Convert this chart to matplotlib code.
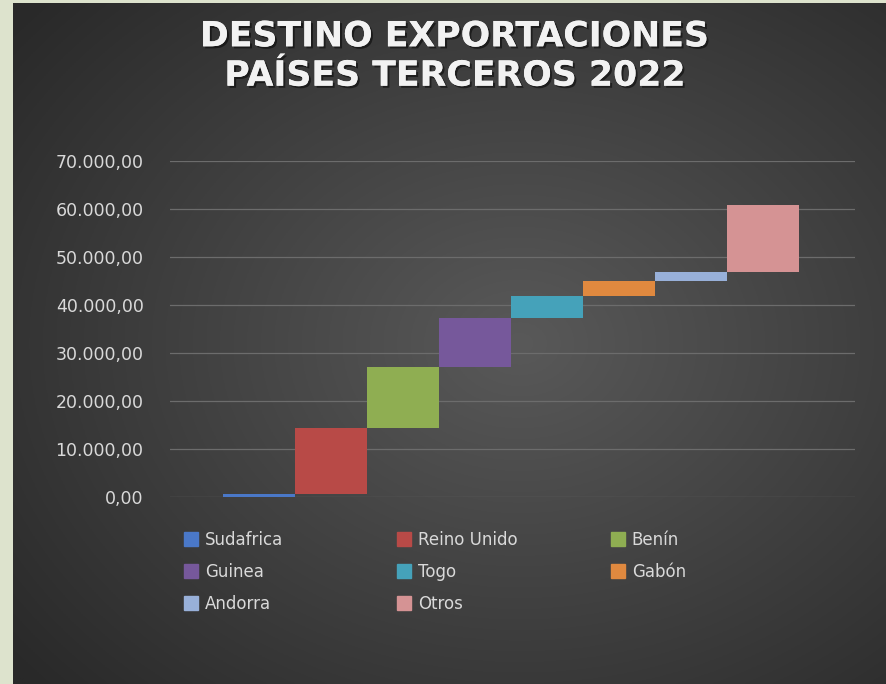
import numpy as np
import matplotlib
matplotlib.use("Agg")
import matplotlib.pyplot as plt
import matplotlib.patheffects as pe
from matplotlib.lines import Line2D
from matplotlib.ticker import FuncFormatter

plt.rcParams["font.family"] = ["DejaVu Sans"]

# datos (lectura aproximada del grafico)
paises = ["Sudafrica", "Reino Unido", "Benín", "Guinea", "Togo", "Gabón", "Andorra", "Otros"]
valores = [600, 13800, 12700, 10200, 4600, 3100, 1900, 13900]
colores = ["#4a78c8", "#b84a47", "#8fae52", "#76589b", "#45a2ba", "#e0893f", "#98b0d9", "#d59394"]
yticks = [0, 10000, 20000, 30000, 40000, 50000, 60000, 70000]
titulo = "DESTINO EXPORTACIONES\nPAÍSES TERCEROS 2022"

W, H = 887, 684
fig = plt.figure(figsize=(W / 100, H / 100), dpi=100)
fig.patch.set_facecolor("#dde3cd")

# fondo oscuro con degradado radial
bg = fig.add_axes([13 / W, 0, 1 - 13 / W, 1 - 3 / H])
gx, gy = np.meshgrid(np.linspace(0, 1, 400), np.linspace(0, 1, 400))
r = np.sqrt(((gx - 0.58) / 0.75) ** 2 + ((gy - 0.5) / 0.75) ** 2)
shade = np.clip(0x59 - (0x59 - 0x29) * r, 0x29, 0x59) / 255.0
bg.imshow(np.dstack([shade, shade, shade]), extent=[0, 1, 0, 1], aspect="auto", origin="lower")
bg.set_axis_off()

ax = fig.add_axes([170 / W, 1 - 497 / H, 685 / W, 336 / H])
ax.set_facecolor("none")

bottoms = np.concatenate([[0], np.cumsum(valores)[:-1]])
x = np.arange(len(paises))
ax.bar(x, valores, bottom=bottoms, width=1.0, color=colores, zorder=3)

ax.set_xlim(-1.236, 8.28)
ax.set_ylim(0, 70000)
ax.set_yticks(yticks)
ax.yaxis.set_major_formatter(FuncFormatter(
    lambda v, p: f"{v:,.2f}".replace(",", "X").replace(".", ",").replace("X", ".")))
ax.tick_params(axis="y", length=0, pad=19, labelsize=12.5, labelcolor="#d9d9d9")
ax.set_xticks([])
ax.grid(axis="y", color="#6c6c6c", linewidth=0.9, zorder=0)
for s in ax.spines.values():
    s.set_visible(False)

fig.text(455 / W, 1 - 56 / H, titulo, ha="center", va="center", fontsize=25,
         fontweight="semibold", color="#f2f2f2", linespacing=1.2,
         path_effects=[pe.withSimplePatchShadow(offset=(1.5, -1.5), shadow_rgbFace="black", alpha=0.5),
                       pe.Normal()])

# leyenda en tres columnas
columnas = [[0, 3, 6], [1, 4, 7], [2, 5]]
col_x = [184, 397, 611]
for cx, idx in zip(col_x, columnas):
    handles = [Line2D([], [], marker="s", linestyle="none", markersize=10,
                      markerfacecolor=colores[i], markeredgecolor=colores[i]) for i in idx]
    fig.legend(handles, [paises[i] for i in idx], loc="upper left",
               bbox_to_anchor=(cx / W, 1 - 531 / H), frameon=False,
               fontsize=12, labelcolor="#d9d9d9", handlelength=0.8,
               handletextpad=0.45, labelspacing=0.85, borderpad=0, borderaxespad=0)

fig.savefig("out.png", dpi=100, facecolor=fig.get_facecolor())
